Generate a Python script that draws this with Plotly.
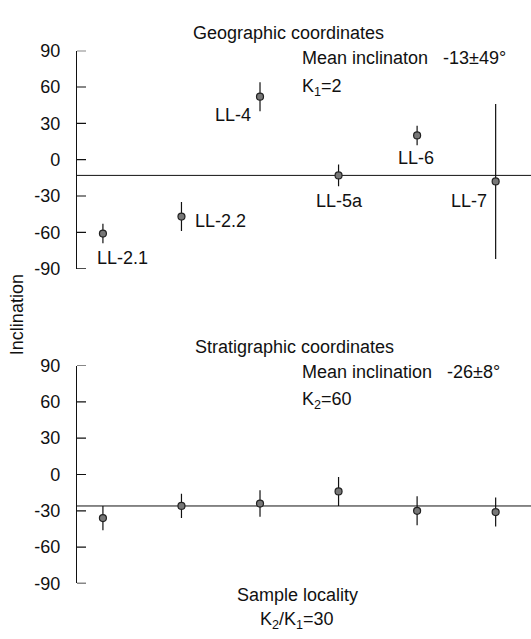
import plotly.graph_objects as go

localities = ["LL-2.1", "LL-2.2", "LL-4", "LL-5a", "LL-6", "LL-7"]
xpos = [1, 2, 3, 4, 5, 6]
geo_inc = [-61, -47, 52, -13, 20, -18]
geo_err = [8, 12, 12, 9, 8, 64]
strat_inc = [-36, -26, -24, -14, -30, -31]
strat_err = [10, 10, 11, 12, 12, 12]
geo_mean = -13
strat_mean = -26
yticks = [-90, -60, -30, 0, 30, 60, 90]

FONT = "Liberation Sans, Arial, sans-serif"
FS = 18
W, H = 531, 639

xrange = [0.67, 6.45]
xdom = [77 / W, 1]
top_dom = [(H - 267) / H, (H - 42) / H]
bot_dom = [(H - 592) / H, (H - 367) / H]

fig = go.Figure()
marker = dict(size=7, color="#777777", line=dict(color="#222222", width=1.2))
err = lambda e: dict(type="data", array=e, visible=True, width=0, thickness=1.2, color="#111111")

# mean lines
fig.add_trace(go.Scatter(x=xrange, y=[geo_mean, geo_mean], mode="lines",
                         line=dict(color="#111111", width=1), xaxis="x", yaxis="y",
                         showlegend=False, hoverinfo="skip"))
fig.add_trace(go.Scatter(x=xrange, y=[strat_mean, strat_mean], mode="lines",
                         line=dict(color="#111111", width=1), xaxis="x2", yaxis="y2",
                         showlegend=False, hoverinfo="skip"))

fig.add_trace(go.Scatter(x=xpos, y=geo_inc, mode="markers", marker=marker,
                         error_y=err(geo_err), xaxis="x", yaxis="y", showlegend=False))
fig.add_trace(go.Scatter(x=xpos, y=strat_inc, mode="markers", marker=marker,
                         error_y=err(strat_err), xaxis="x2", yaxis="y2", showlegend=False))

yax = dict(range=[-90, 90], tickvals=yticks, ticktext=[str(v) for v in yticks],
           ticks="", showline=True, linecolor="#111111", linewidth=1.2,
           showgrid=False, zeroline=False,
           tickfont=dict(family=FONT, size=FS, color="#111"), ticklabelstandoff=12)
xax = dict(range=xrange, domain=xdom, showline=False, showticklabels=False,
           ticks="", showgrid=False, zeroline=False)

fig.update_layout(
    width=W, height=H, margin=dict(l=0, r=0, t=0, b=0),
    paper_bgcolor="white", plot_bgcolor="white",
    xaxis=dict(**xax, anchor="y"),
    xaxis2=dict(**xax, anchor="y2"),
    yaxis=dict(**yax, domain=top_dom, anchor="x"),
    yaxis2=dict(**yax, domain=bot_dom, anchor="x2"),
    font=dict(family=FONT, size=FS, color="#111"),
)

# inside tick marks
tick_frac = 9 / (W - 77)
for xr, yr in (("x domain", "y"), ("x2 domain", "y2")):
    for t in yticks:
        fig.add_shape(type="line", xref=xr, yref=yr, x0=0, x1=tick_frac, y0=t, y1=t,
                      line=dict(color="#111111", width=1.2))

shifts = [(20, -24), (39, -4), (-27, -18), (1, -26), (-1, -23), (-27, -20)]
for name, x, y, (dx, dy) in zip(localities, xpos, geo_inc, shifts):
    fig.add_annotation(x=x, y=y, xref="x", yref="y", text=name, showarrow=False,
                       xshift=dx, yshift=dy, font=dict(family=FONT, size=FS))

def ptxt(text, x, y, xanchor="center", size=FS, angle=0):
    fig.add_annotation(x=x / W, y=1 - y / H, xref="paper", yref="paper", text=text,
                       showarrow=False, xanchor=xanchor, yanchor="middle",
                       textangle=angle, font=dict(family=FONT, size=size))

ptxt("Geographic coordinates", 288, 24)
ptxt("Mean inclinaton   -13±49°", 300, 50, xanchor="left")
ptxt("K<sub>1</sub>=2", 300, 80, xanchor="left")
ptxt("Stratigraphic coordinates", 294, 348)
ptxt("Mean inclination   -26±8°", 300, 374, xanchor="left")
ptxt("K<sub>2</sub>=60", 300, 403, xanchor="left")
ptxt("Sample locality", 297, 604)
ptxt("K<sub>2</sub>/K<sub>1</sub>=30", 297, 630)
ptxt("Inclination", 17, 315, angle=-90)

fig.write_html("out.html")
